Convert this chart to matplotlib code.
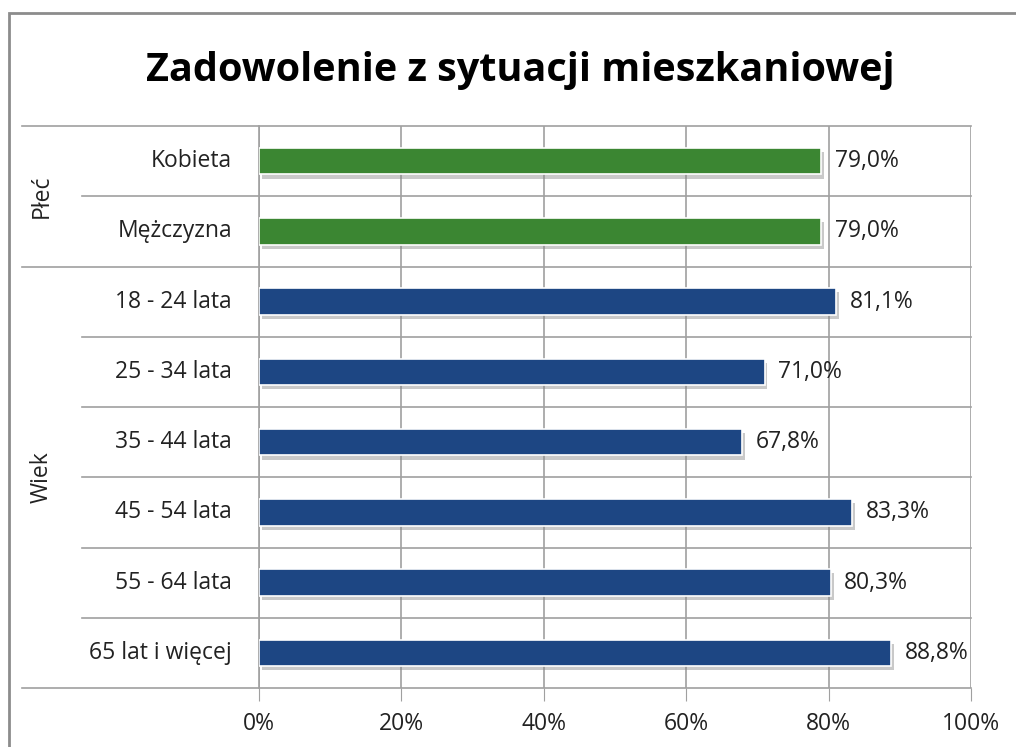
import matplotlib.pyplot as plt
import matplotlib.patheffects as pe
from matplotlib.patches import Rectangle
from matplotlib.lines import Line2D

plt.rcParams['font.family'] = ['Open Sans', 'DejaVu Sans']

categories = ['Kobieta', 'Mężczyzna', '18 - 24 lata', '25 - 34 lata', '35 - 44 lata',
              '45 - 54 lata', '55 - 64 lata', '65 lat i więcej']
values = [79.0, 79.0, 81.1, 71.0, 67.8, 83.3, 80.3, 88.8]
groups = ['Płeć', 'Płeć', 'Wiek', 'Wiek', 'Wiek', 'Wiek', 'Wiek', 'Wiek']
group_names = ['Płeć', 'Wiek']
xticks = [0, 20, 40, 60, 80, 100]

colors = {'Płeć': '#3B8632', 'Wiek': '#1D4683'}
grid_col = '#A0A0A0'
txt_col = '#222222'
fs = 16.5

fig = plt.figure(figsize=(10.16, 7.47), dpi=100)
W, H = 1016, 747
ax = fig.add_axes([259 / W, 1 - 688 / H, 712 / W, 562 / H])

n = len(categories)
ypos = list(range(n))[::-1]
bars = ax.barh(ypos, values, height=0.38, color=[colors[g] for g in groups],
               edgecolor='white', linewidth=1.2, zorder=3)
for b in bars:
    b.set_path_effects([pe.SimplePatchShadow(offset=(2, -3), shadow_rgbFace='#888888', alpha=0.45),
                        pe.Normal()])

for y, v in zip(ypos, values):
    ax.text(v + 1.9, y, f'{v:.1f}%'.replace('.', ','), va='center', ha='left',
            fontsize=fs, color=txt_col, zorder=4)

ax.set_xlim(0, 100)
ax.set_ylim(-0.5, n - 0.5)
ax.set_xticks(xticks)
ax.set_xticklabels([f'{t}%' for t in xticks], fontsize=fs, color=txt_col)
ax.set_yticks([])
ax.tick_params(axis='x', length=9, color=grid_col, pad=8)
ax.xaxis.grid(True, color=grid_col, linewidth=1.2, zorder=0)
ax.set_axisbelow(True)
for s in ['top', 'right', 'bottom']:
    ax.spines[s].set_visible(False)
ax.spines['left'].set_color(grid_col)
ax.spines['left'].set_linewidth(1.2)

# horizontal separators
x_left_full = 22 / W
x_left_inner = 82 / W
x_right = 971 / W
row_h = 562 / n / H
bottom = 1 - 688 / H
for i in range(n + 1):
    yy = bottom + i * row_h
    x0 = x_left_full if i in (0, 6, n) else x_left_inner
    fig.add_artist(Line2D([x0, x_right], [yy, yy], color=grid_col, linewidth=1.2))

# category labels
for y, c in zip(ypos, categories):
    ax.text(-27 / 712 * 100, y, c, ha='right', va='center', fontsize=fs,
            color=txt_col, clip_on=False)

# group labels
for g in group_names:
    idx = [ypos[i] for i in range(n) if groups[i] == g]
    ymid = (min(idx) + max(idx)) / 2
    ax.text(-217 / 712 * 100, ymid, g, ha='center', va='center', rotation=90,
            fontsize=fs, color=txt_col, clip_on=False)

fig.text(520 / W, 1 - 70 / H, 'Zadowolenie z sytuacji mieszkaniowej', ha='center', va='center',
         fontsize=28.5, fontweight='bold', color='black')

# chart frame
fig.add_artist(Rectangle((9 / W, -0.1), 1.2, 1 - 13 / H + 0.1, transform=fig.transFigure,
                         fill=False, edgecolor='#8C8C8C', linewidth=2))

fig.savefig('out.png', dpi=100, facecolor='white')
